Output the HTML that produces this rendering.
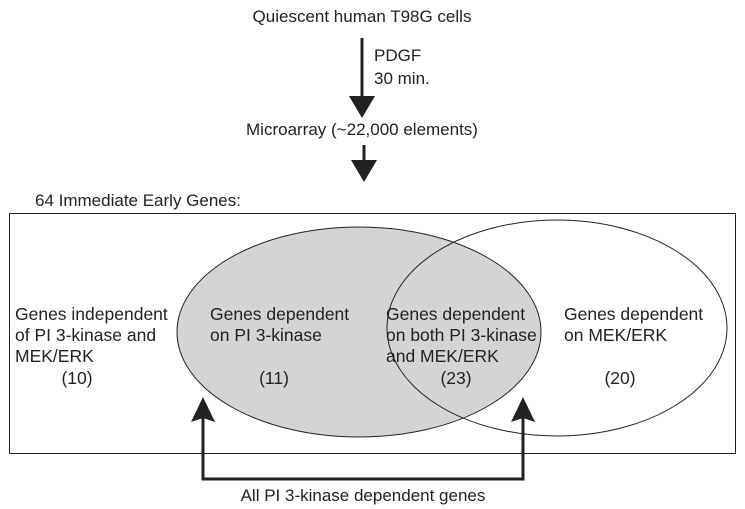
<!DOCTYPE html>
<html><head><meta charset="utf-8"><style>
html,body{margin:0;padding:0;background:#fff;}
svg{display:block;}
text{font-family:"Liberation Sans",Arial,sans-serif;font-size:17px;fill:#222;}
.in{font-size:17.5px;}
</style></head><body>
<svg width="745" height="509" viewBox="0 0 745 509" xmlns="http://www.w3.org/2000/svg">
<text x="362" y="22" text-anchor="middle">Quiescent human T98G cells</text>
<line x1="362" y1="38" x2="362" y2="100" stroke="#222" stroke-width="3"/>
<polygon points="349,96 375,96 362,118" fill="#222"/>
<text x="374" y="61">PDGF</text>
<text x="374" y="84">30 min.</text>
<text x="362" y="135" text-anchor="middle">Microarray (~22,000 elements)</text>
<line x1="364" y1="145" x2="364" y2="165" stroke="#222" stroke-width="3"/>
<polygon points="351,160 377,160 364,182" fill="#222"/>
<text x="35" y="206">64 Immediate Early Genes:</text>
<rect x="9.5" y="213.5" width="726" height="240" fill="none" stroke="#222" stroke-width="1"/>
<ellipse cx="359" cy="332" rx="182" ry="105" fill="#d4d4d4" stroke="#222" stroke-width="1"/>
<ellipse cx="557" cy="328" rx="170" ry="108" fill="none" stroke="#222" stroke-width="1"/>
<g class="in">
<text class="in" x="15" y="320">Genes independent</text>
<text class="in" x="15" y="341">of PI 3-kinase and</text>
<text class="in" x="15" y="362">MEK/ERK</text>
<text class="in" x="77" y="384" text-anchor="middle">(10)</text>
<text class="in" x="210" y="320">Genes dependent</text>
<text class="in" x="210" y="341">on PI 3-kinase</text>
<text class="in" x="274" y="384" text-anchor="middle">(11)</text>
<text class="in" x="386" y="320">Genes dependent</text>
<text class="in" x="386" y="341">on both PI 3-kinase</text>
<text class="in" x="386" y="362">and MEK/ERK</text>
<text class="in" x="456" y="384" text-anchor="middle">(23)</text>
<text class="in" x="564" y="320">Genes dependent</text>
<text class="in" x="564" y="341">on  MEK/ERK</text>
<text class="in" x="620" y="384" text-anchor="middle">(20)</text>
</g>
<polyline points="203,415 203,479 523,479 523,415" fill="none" stroke="#222" stroke-width="3"/>
<polygon points="203,397 191,422 203,418 215,422" fill="#222"/>
<polygon points="523,397 511,422 523,418 535,422" fill="#222"/>
<text x="363" y="501" text-anchor="middle">All PI 3-kinase dependent genes</text>
</svg>
</body></html>
